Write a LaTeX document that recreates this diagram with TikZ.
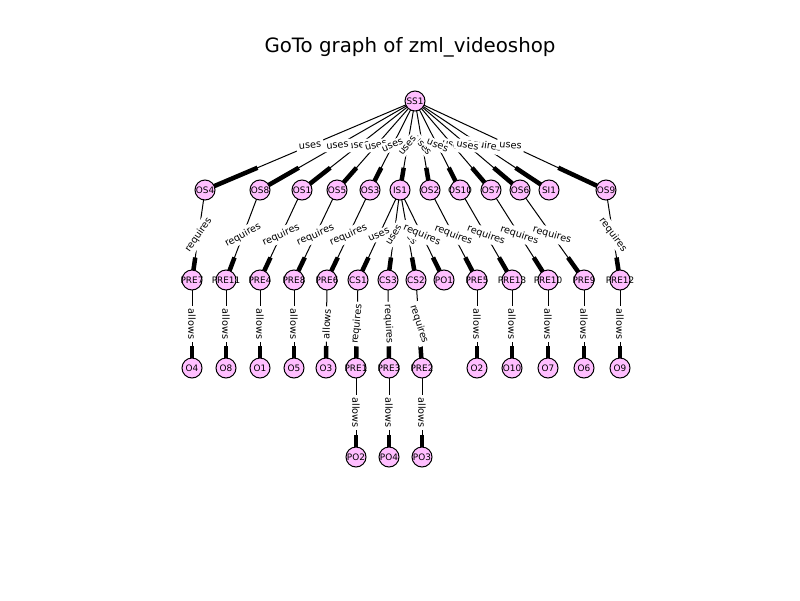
\documentclass[tikz,border=0pt]{standalone}
\usepackage{fontspec}
\setmainfont{DejaVu Sans}
\usetikzlibrary{calc}
\pgfdeclarelayer{bg}\pgfdeclarelayer{fg}\pgfsetlayers{bg,main,fg}
\definecolor{nodepink}{RGB}{255,190,255}
\begin{document}
\begin{tikzpicture}[x=1pt,y=-1pt,
  nd/.style={circle,draw=black,line width=1pt,fill=nodepink,minimum size=20pt,inner sep=0pt,font=\fontsize{8.9}{9}\selectfont},
  elab/.style={fill=white,inner sep=2.5pt,font=\fontsize{9.7}{10}\selectfont},
  thinedge/.style={line width=1pt},
  arrowseg/.style={line width=4.5pt}]
\useasboundingbox (0,0) rectangle (800,600);
\node[font=\fontsize{19.8}{20}\selectfont] (title) at (410,47) {GoTo graph of zml\_videoshop};
\foreach \nm/\px/\py in {SS1/415/101,
  OS4/205/190, OS8/260/190, OS1/302/190, OS5/337/190, OS3/370/190, IS1/400/190, OS2/430/190, OS10/460/190, OS7/491/190, OS6/520/190, SI1/549/190, OS9/606/190,
  PRE7/192/280, PRE11/226/280, PRE4/260/280, PRE8/294/280, PRE6/327/280, CS1/358/280, CS3/388/280, CS2/416/280, PO1/444/280, PRE5/477/280, PRE13/512/280, PRE10/548/280, PRE9/584/280, PRE12/620/280,
  O4/192/368, O8/226/368, O1/260/368, O5/294/368, O3/326/368, PRE1/356/368, PRE3/389/368, PRE2/422/368, O2/477/368, O10/512/368, O7/548/368, O6/584/368, O9/620/368,
  PO2/356/457, PO4/389/457, PO3/422/457}
  \node[nd] (\nm) at (\px,\py) {\makebox[0pt]{\nm}};
\begin{pgfonlayer}{bg}
\foreach \a/\b in {SS1/OS4, SS1/OS8, SS1/OS1, SS1/OS5, SS1/OS3, SS1/IS1, SS1/OS2, SS1/OS10, SS1/OS7, SS1/OS6, SS1/SI1, SS1/OS9,
  OS4/PRE7, OS8/PRE11, OS1/PRE4, OS5/PRE8, OS3/PRE6, IS1/CS1, IS1/CS3, IS1/CS2, IS1/PO1, OS2/PRE5, OS10/PRE13, OS7/PRE10, OS6/PRE9, OS9/PRE12,
  PRE7/O4, PRE11/O8, PRE4/O1, PRE8/O5, PRE6/O3, CS1/PRE1, CS3/PRE3, CS2/PRE2, PRE5/O2, PRE13/O10, PRE10/O7, PRE9/O6, PRE12/O9,
  PRE1/PO2, PRE3/PO4, PRE2/PO3} {
  \draw[thinedge] (\a.center) -- (\b.center);
  \draw[arrowseg] ($(\a.center)!0.75!(\b.center)$) -- (\b.center);
}
\end{pgfonlayer}
\begin{pgfonlayer}{fg}
\foreach \a/\b/\l in {SS1/OS7/uses, SS1/OS2/uses, SS1/SI1/requires, SS1/OS1/uses, SS1/OS5/uses, SS1/OS4/uses, SS1/OS8/uses, SS1/OS3/uses, SS1/IS1/uses, SS1/OS10/uses, SS1/OS6/uses, SS1/OS9/uses,
  OS4/PRE7/requires, OS8/PRE11/requires, OS1/PRE4/requires, OS5/PRE8/requires, OS3/PRE6/requires, IS1/CS2/uses, IS1/CS1/uses, IS1/CS3/uses, IS1/PO1/requires, OS2/PRE5/requires, OS10/PRE13/requires, OS7/PRE10/requires, OS6/PRE9/requires, OS9/PRE12/requires,
  PRE7/O4/allows, PRE11/O8/allows, PRE4/O1/allows, PRE8/O5/allows, PRE6/O3/allows, CS1/PRE1/requires, CS3/PRE3/requires, CS2/PRE2/requires, PRE5/O2/allows, PRE13/O10/allows, PRE10/O7/allows, PRE9/O6/allows, PRE12/O9/allows,
  PRE1/PO2/allows, PRE3/PO4/allows, PRE2/PO3/allows} {
  \path let \p1=(\a.center), \p2=(\b.center),
    \n1={atan2(0.21*((\y2)-(\y1)),(\x2)-(\x1))},
    \n2={\n1-180*(\n1>90)+180*(\n1<-90)} in
    node[elab,rotate=\n2] (L\a\b) at ($(\a.center)!0.5!(\b.center)$) {\l};
}
\end{pgfonlayer}
\end{tikzpicture}
\end{document}
